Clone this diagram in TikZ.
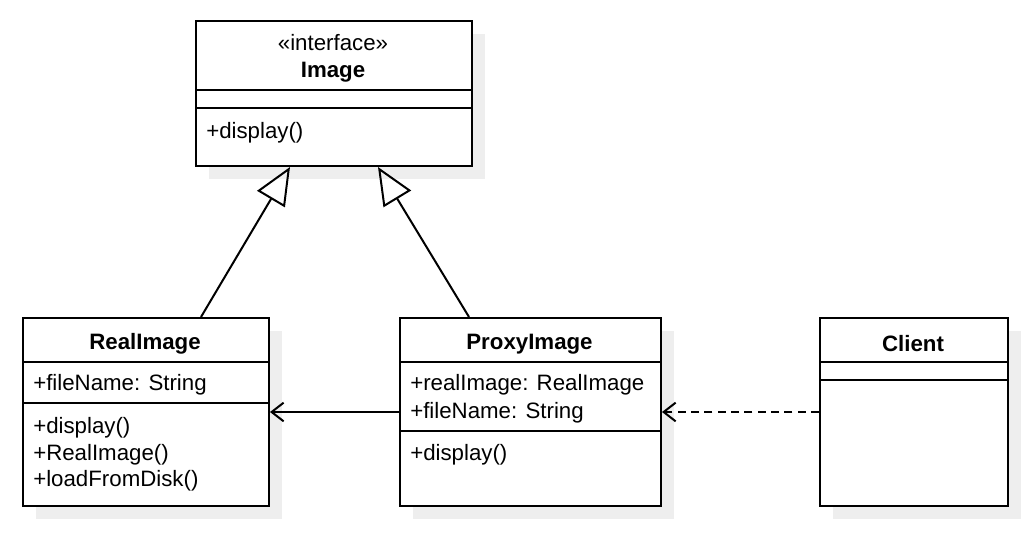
\documentclass[tikz,border=0pt]{standalone}
\usepackage{fontspec}
\setmainfont{Liberation Sans}
\usepackage{tikz}
\usetikzlibrary{arrows.meta,shadows}
\definecolor{shadowgray}{RGB}{238,238,238}

\tikzset{
  umlclass/.style={draw, line width=1.5pt, fill=white, anchor=north west, inner sep=0pt,
    drop shadow={shadow xshift=9.75pt, shadow yshift=-9.75pt, fill=shadowgray, opacity=1}},
  classname/.style={inner sep=0.75pt, font=\fontsize{16.7}{20}\selectfont\bfseries},
  member/.style={anchor=west, inner sep=0.75pt, font=\fontsize{16.7}{20}\selectfont},
  divider/.style={line width=1.5pt},
  realizes/.style={line width=1.5pt, -{Triangle[open, length=28pt, width=24pt, line width=1.5pt]}},
  assoc/.style={line width=1.5pt, -{Straight Barb[length=9pt, width=14pt, line width=1.5pt]}},
  usesdep/.style={assoc, dash pattern=on 6pt off 4pt}
}

\begin{document}
\begin{tikzpicture}[x=0.75pt,y=0.75pt,yscale=-1,xscale=1]
\useasboundingbox (0,0) rectangle (1028,546);

%Shape: Rectangle [Image]
\node[umlclass, minimum width=207pt, minimum height=108.75pt] (image) at (195,20) {};
\draw[divider] (image.west |- 0,90) -- (image.east |- 0,90);
\draw[divider] (image.west |- 0,108) -- (image.east |- 0,108);
%Shape: Rectangle [RealImage]
\node[umlclass, minimum width=184.5pt, minimum height=141pt] (realimg) at (22,317) {};
\draw[divider] (realimg.west |- 0,362) -- (realimg.east |- 0,362);
\draw[divider] (realimg.west |- 0,403) -- (realimg.east |- 0,403);
%Shape: Rectangle [ProxyImage]
\node[umlclass, minimum width=195.75pt, minimum height=141pt] (proxy) at (399,317) {};
\draw[divider] (proxy.west |- 0,362) -- (proxy.east |- 0,362);
\draw[divider] (proxy.west |- 0,431) -- (proxy.east |- 0,431);
%Shape: Rectangle [Client]
\node[umlclass, minimum width=141pt, minimum height=141pt] (client) at (819,317) {};
\draw[divider] (client.west |- 0,362) -- (client.east |- 0,362);
\draw[divider] (client.west |- 0,380) -- (client.east |- 0,380);

%Straight Lines
\draw[realizes] ([xshift=134.25pt]realimg.north west) -- ([xshift=71.25pt]image.south west);
%Straight Lines
\draw[realizes] ([xshift=52.5pt]proxy.north west) -- ([xshift=137.25pt]image.south west);
%Straight Lines
\draw[assoc] (proxy.west) -- (realimg.east);
%Straight Lines
\draw[usesdep] (client.west) -- (proxy.east);

% Text Node
\node[member, anchor=center] (imagestereo) at (333,43) {«interface»};
% Text Node
\node[classname] (imagename) at (333,72) {Image};
% Text Node
\node[member] (imageop) at (205,133) {+display()};
% Text Node
\node[classname] (realname) at (145,344) {RealImage};
% Text Node
\node[member] (realattr) at (32,385) {+fileName: String};
% Text Node
\node[member] (realop1) at (32,428) {+display()};
% Text Node
\node[member] (realop2) at (32,455) {+RealImage()};
% Text Node
\node[member] (realop3) at (32,481) {+loadFromDisk()};
% Text Node
\node[classname] (proxyname) at (529.5,344) {ProxyImage};
% Text Node
\node[member] (proxyattr1) at (409,385) {+realImage: RealImage};
% Text Node
\node[member] (proxyattr2) at (409,413) {+fileName: String};
% Text Node
\node[member] (proxyop) at (409,455) {+display()};
% Text Node
\node[classname] (clientname) at (913,344) {Client};

\end{tikzpicture}
\end{document}
